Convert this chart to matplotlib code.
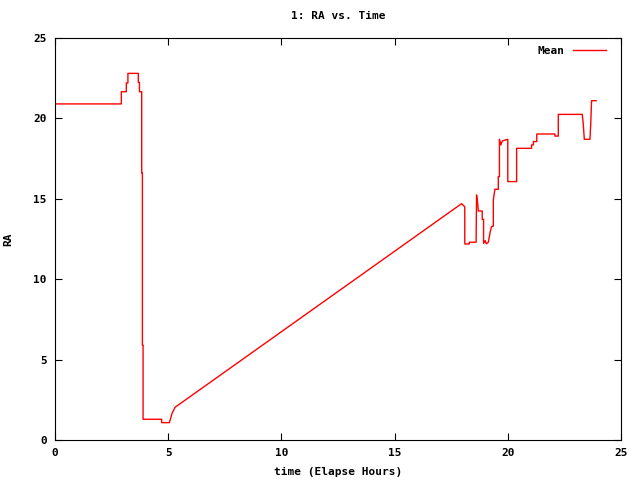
import matplotlib
matplotlib.use("Agg")
import matplotlib.pyplot as plt

# Mean RA over elapsed time
hours = [0.0, 2.93, 2.93, 3.15, 3.15, 3.22, 3.22, 3.68, 3.68, 3.73, 3.73,
         3.83, 3.83, 3.86, 3.86, 3.89, 3.89, 4.71, 4.71, 5.05, 5.12, 5.17,
         5.23, 5.30, 17.96, 18.10, 18.10, 18.30, 18.30, 18.60, 18.62, 18.67,
         18.70, 18.87, 18.87, 18.93, 18.93, 19.00, 19.05, 19.14, 19.21, 19.28,
         19.36, 19.36, 19.43, 19.58, 19.58, 19.63, 19.63, 19.69, 19.76, 20.00,
         20.00, 20.05, 20.39, 20.39, 20.46, 21.05, 21.05, 21.13, 21.13, 21.28,
         21.28, 22.08, 22.08, 22.23, 22.23, 22.30, 23.29, 23.33, 23.38, 23.63,
         23.67, 23.70, 23.90]
ra = [20.9, 20.9, 21.66, 21.66, 22.2, 22.2, 22.8, 22.8, 22.24, 22.24, 21.66,
      21.66, 16.6, 16.6, 5.9, 5.9, 1.29, 1.29, 1.08, 1.08, 1.4, 1.66,
      1.82, 2.03, 14.7, 14.5, 12.19, 12.19, 12.3, 12.3, 15.24, 14.72,
      14.24, 14.24, 13.72, 13.72, 12.23, 12.4, 12.2, 12.3, 12.86, 13.27,
      13.3, 14.93, 15.59, 15.59, 16.38, 16.38, 18.7, 18.35, 18.6, 18.7,
      16.07, 16.07, 16.07, 18.14, 18.14, 18.14, 18.35, 18.35, 18.56, 18.56,
      19.03, 19.03, 18.9, 18.9, 20.25, 20.25, 20.25, 19.7, 18.7, 18.7,
      19.9, 21.1, 21.1]

plt.rcParams['font.family'] = ['DejaVu Sans Mono']
plt.rcParams['font.weight'] = 'bold'
plt.rcParams['font.size'] = 8

fig = plt.figure(figsize=(6.4, 4.8), dpi=100)
ax = fig.add_axes([55 / 640, 40 / 480, 566 / 640, 402 / 480])

ax.plot(hours, ra, color='red', linewidth=1, label='Mean')

ax.set_xlim(0, 25)
ax.set_ylim(0, 25)
ax.set_xticks([0, 5, 10, 15, 20, 25])
ax.set_yticks([0, 5, 10, 15, 20, 25])
ax.tick_params(direction='in', top=True, right=True, length=5, width=0.8, pad=6)
ax.set_title("1: RA vs. Time", fontsize=8, fontweight='bold', pad=14)
ax.set_xlabel("time (Elapse Hours)", fontsize=8, fontweight='bold', labelpad=6)
ax.set_ylabel("RA", fontsize=8, fontweight='bold', labelpad=14)

ax.legend(loc='upper right', frameon=False, markerfirst=False,
          handlelength=3, fontsize=8, borderaxespad=0.3,
          bbox_to_anchor=(0.988, 1.0))

fig.savefig("out.png", dpi=100)
